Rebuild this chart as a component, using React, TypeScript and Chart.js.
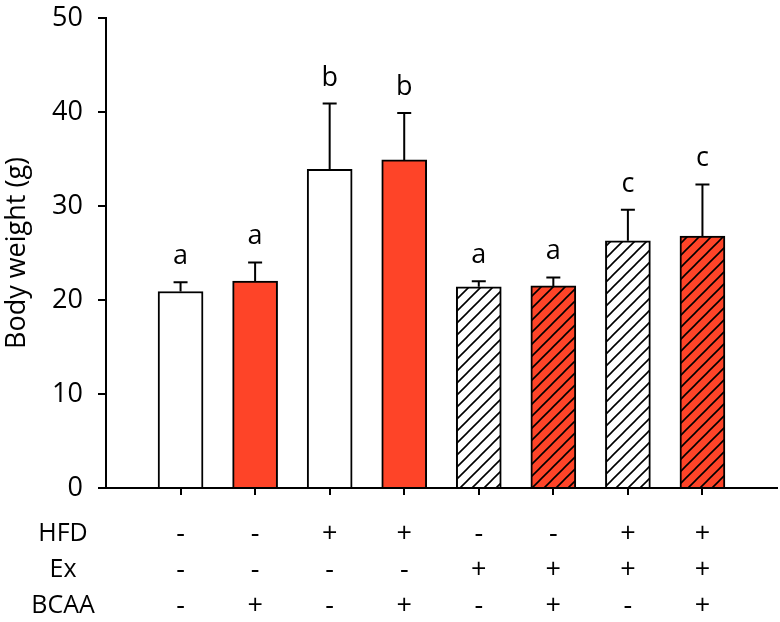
import React, { useEffect, useRef } from 'react';
import { Chart, registerables } from 'chart.js';

Chart.register(...registerables);

const groupIndex = [0, 1, 2, 3, 4, 5, 6, 7];
const means = [20.9, 22.0, 33.9, 34.9, 21.4, 21.5, 26.3, 26.8];
const errors = [1.0, 2.0, 7.0, 5.0, 0.6, 0.9, 3.3, 5.5];
const letters = ['a', 'a', 'b', 'b', 'a', 'a', 'c', 'c'];
const hfd = ['-', '-', '+', '+', '-', '-', '+', '+'];
const ex = ['-', '-', '-', '-', '+', '+', '+', '+'];
const bcaa = ['-', '+', '-', '+', '-', '+', '-', '+'];
const rowLabels = ['HFD', 'Ex', 'BCAA'];
const rows = [hfd, ex, bcaa];
const yTicks = [0, 10, 20, 30, 40, 50];

const RED = '#fe4428';
const FONT = "'Open Sans', sans-serif";

function makePattern(bg: string): CanvasPattern | string {
  const c = document.createElement('canvas');
  const s = 12;
  c.width = s;
  c.height = s;
  const g = c.getContext('2d');
  if (!g) return bg;
  g.fillStyle = bg;
  g.fillRect(0, 0, s, s);
  g.strokeStyle = '#000';
  g.lineWidth = 1.6;
  g.beginPath();
  g.moveTo(-2, s + 2);
  g.lineTo(s + 2, -2);
  g.moveTo(-s / 2 - 2, s / 2 + 2);
  g.lineTo(s / 2 + 2, -s / 2 - 2);
  g.moveTo(s / 2 - 2, s * 1.5 + 2);
  g.lineTo(s * 1.5 + 2, s / 2 - 2);
  g.stroke();
  const p = g.createPattern(c, 'repeat');
  return p || bg;
}

export default function App() {
  const ref = useRef<HTMLCanvasElement | null>(null);

  useEffect(() => {
    if (!ref.current) return;
    const redHatch = makePattern(RED);
    const whiteHatch = makePattern('#ffffff');
    const fills = groupIndex.map((i) => {
      const red = bcaa[i] === '+';
      const hatched = ex[i] === '+';
      if (hatched) return red ? redHatch : whiteHatch;
      return red ? RED : '#ffffff';
    });

    const extras = {
      id: 'extras',
      afterDatasetsDraw(chart: any) {
        const ctx = chart.ctx;
        const ys = chart.scales.y;
        const meta = chart.getDatasetMeta(0);
        ctx.save();
        ctx.strokeStyle = '#000';
        ctx.lineWidth = 2;
        meta.data.forEach((el: any, i: number) => {
          const top = ys.getPixelForValue(means[i] + errors[i]);
          ctx.beginPath();
          ctx.moveTo(el.x, el.y);
          ctx.lineTo(el.x, top);
          ctx.moveTo(el.x - 7, top);
          ctx.lineTo(el.x + 7, top);
          ctx.stroke();
          ctx.fillStyle = '#000';
          ctx.font = `27px ${FONT}`;
          ctx.textAlign = 'center';
          ctx.textBaseline = 'alphabetic';
          ctx.fillText(letters[i], el.x, top - 18);
        });
        ctx.restore();
      },
      afterDraw(chart: any) {
        const ctx = chart.ctx;
        const xs = chart.scales.x;
        const base = chart.chartArea.bottom;
        ctx.save();
        ctx.fillStyle = '#000';
        ctx.textBaseline = 'middle';
        ctx.textAlign = 'center';
        rows.forEach((row, r) => {
          const y = base + 46 + r * 36;
          ctx.font = `25px ${FONT}`;
          ctx.fillText(rowLabels[r], 63, y);
          row.forEach((s, i) => {
            ctx.font = `27px ${FONT}`;
            ctx.fillText(s, xs.getPixelForValue(groupIndex[i]), y);
          });
        });
        ctx.restore();
      },
    };

    const chart = new Chart(ref.current, {
      type: 'bar',
      data: {
        datasets: [
          {
            data: groupIndex.map((i) => ({ x: i, y: means[i] })),
            backgroundColor: fills as any,
            borderColor: '#000',
            borderWidth: 2,
            barThickness: 45,
          },
        ],
      },
      options: {
        animation: false,
        responsive: true,
        maintainAspectRatio: false,
        layout: { padding: { left: 0, top: 18, right: 3, bottom: 0 } },
        plugins: { legend: { display: false }, tooltip: { enabled: false } },
        scales: {
          x: {
            type: 'linear',
            offset: false,
            min: -1,
            max: 8,
            ticks: { display: false, stepSize: 1 },
            grid: {
              offset: false,
              drawOnChartArea: false,
              drawTicks: true,
              tickLength: 7,
              lineWidth: 2,
              color: (c: any) =>
                c.tick && c.tick.value >= 0 && c.tick.value <= 7 ? '#000' : 'rgba(0,0,0,0)',
            },
            border: { display: true, color: '#000', width: 2 },
            afterFit: (s: any) => {
              s.height = 134;
              s.paddingLeft = 0;
              s.paddingRight = 0;
            },
          },
          y: {
            min: 0,
            max: 50,
            afterBuildTicks: (s: any) => {
              s.ticks = yTicks.map((v) => ({ value: v }));
            },
            ticks: { color: '#000', font: { size: 27, family: FONT }, padding: 15 },
            grid: { drawOnChartArea: false, drawTicks: true, tickLength: 8, lineWidth: 2, color: '#000' },
            border: { display: true, color: '#000', width: 2 },
            title: {
              display: true,
              text: 'Body weight (g)',
              color: '#000',
              font: { size: 27, family: FONT },
              padding: { top: 1, bottom: 0 },
            },
            afterFit: (s: any) => {
              s.width = 106;
              s.paddingTop = 0;
              s.paddingBottom = 0;
            },
          },
        },
      },
      plugins: [extras],
    });
    return () => chart.destroy();
  }, []);

  return (
    <div style={{ position: 'absolute', left: 0, top: 0, width: 780, height: 622 }}>
      <canvas ref={ref} />
    </div>
  );
}
